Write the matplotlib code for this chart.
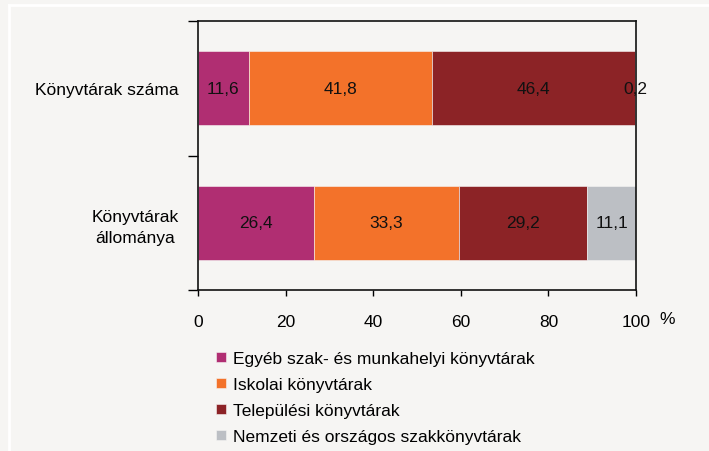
import matplotlib
matplotlib.use("Agg")
import matplotlib.pyplot as plt
from matplotlib.lines import Line2D
import numpy as np

plt.rcParams['font.family'] = ['Liberation Sans', 'DejaVu Sans']

categories = ["Könyvtárak száma", "Könyvtárak\nállománya"]
series_names = ["Egyéb szak- és munkahelyi könyvtárak", "Iskolai könyvtárak",
                "Települési könyvtárak", "Nemzeti és országos szakkönyvtárak"]
egyeb = [11.6, 26.4]
iskolai = [41.8, 33.3]
telepulesi = [46.4, 29.2]
nemzeti = [0.2, 11.1]
series_values = [egyeb, iskolai, telepulesi, nemzeti]
colors = ["#b02e72", "#f3722a", "#8c2326", "#bcbfc4"]
xticks = [0, 20, 40, 60, 80, 100]

FS = 12.5
bg = "#f6f5f3"
fig = plt.figure(figsize=(7.09, 4.52), dpi=100, facecolor=bg)
ax = fig.add_axes([198/709, 1-291/452, (636-198)/709, (291-22)/452])
ax.set_facecolor(bg)

y = np.arange(len(categories))
left = np.zeros(len(categories))
for name, vals, c in zip(series_names, series_values, colors):
    vals = np.array(vals)
    ax.barh(y, vals, left=left, height=0.55, color=c, label=name,
            edgecolor=bg, linewidth=0.4)
    for yi, (l, v) in enumerate(zip(left, vals)):
        ax.text(l + v/2, yi, f"{v:.1f}".replace(".", ","), ha="center", va="center",
                fontsize=FS, color="#111111")
    left += vals

ax.set_ylim(1.5, -0.5)
ax.set_xlim(0, 100)
ax.set_yticks([-0.5, 0.5, 1.5])
ax.set_yticklabels([])
ax.set_yticks(y, minor=True)
ax.set_yticklabels(categories, minor=True, fontsize=FS)
ax.tick_params(axis='y', which='minor', length=0, pad=14)
ax.tick_params(axis='y', which='major', length=7, width=1, direction='out')
ax.set_xticks(xticks)
ax.set_xticklabels([str(t) for t in xticks], fontsize=FS)
ax.tick_params(axis='x', length=4, width=1, direction='out', pad=13)
for lbl in ax.get_yticklabels(minor=True):
    lbl.set_multialignment('center')
    lbl.set_linespacing(1.45)
for s in ax.spines.values():
    s.set_linewidth(1.2)
    s.set_color("#111111")

fig.text(667/709, 1-320/452, "%", ha="center", va="center", fontsize=FS)

leg = fig.legend(loc="upper left", bbox_to_anchor=(216/709, 1-352/452), frameon=False,
                 fontsize=FS, handlelength=0.55, handleheight=0.55, handletextpad=0.45,
                 labelspacing=0.64, borderaxespad=0, borderpad=0)

fig.add_artist(Line2D([9/709, 9/709], [0, 1-6/452], transform=fig.transFigure, color="white", lw=2))
fig.add_artist(Line2D([9/709, 1], [1-6/452, 1-6/452], transform=fig.transFigure, color="white", lw=2))

fig.savefig("out.png", dpi=100, facecolor=bg)
